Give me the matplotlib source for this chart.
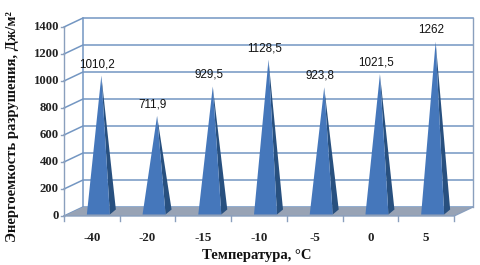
import numpy as np
import matplotlib
matplotlib.use("Agg")
import matplotlib.pyplot as plt
from matplotlib.patches import Polygon

temps = ['-40', '-20', '-15', '-10', '-5', '0', '5']
values = [1010.2, 711.9, 929.5, 1128.5, 923.8, 1021.5, 1262]
value_labels = ['1010,2', '711,9', '929,5', '1128,5', '923,8', '1021,5', '1262']
y_ticks = [0, 200, 400, 600, 800, 1000, 1200, 1400]

plt.rcParams['font.family'] = ['Liberation Serif', 'DejaVu Serif']

# pixel layout of the front plane, the axes span the whole figure
W, H = 481, 265
x0_px, x1_px, y0_px = 64, 454, 216
px_per_cat = (x1_px - x0_px) / len(temps)
px_per_unit = 27 / 200

fig = plt.figure(figsize=(W / 100, H / 100), dpi=100, facecolor='white')
ax = fig.add_axes([0, 0, 1, 1])
ax.set_xlim(-0.5 - x0_px / px_per_cat, -0.5 + (W - x0_px) / px_per_cat)
ax.set_ylim((y0_px - H) / px_per_unit, y0_px / px_per_unit)
ax.axis('off')

# offsets in data units
def dx(p):
    return p / px_per_cat

def dy(p):
    return p / px_per_unit

left, right = -0.5, len(temps) - 0.5
depth_x, depth_y = dx(19), dy(9)
grid_col = '#7396c2'
axis_col = '#8a9fbd'

# floor
ax.add_patch(Polygon([(left, 0), (left + depth_x, depth_y),
                      (right + depth_x, depth_y), (right, 0)],
                     fc='#98a3b5', ec='none', zorder=1))

# back wall grid + side wall grid
for t in y_ticks:
    ax.plot([left, left + depth_x, right + depth_x], [t, t + depth_y, t + depth_y],
            color=grid_col, lw=1.1, zorder=0.5)
ax.plot([left, left], [0, 1400], color=axis_col, lw=1.0, zorder=0.6)
ax.plot([left + depth_x] * 2, [depth_y, 1400 + depth_y], color=grid_col, lw=1.1, zorder=0.6)
ax.plot([right + depth_x] * 2, [depth_y, 1400 + depth_y], color=axis_col, lw=1.0, zorder=0.6)
ax.plot([left, right, right + depth_x], [0, 0, depth_y], color=axis_col, lw=1.0, zorder=1.2)

# ticks
for t in y_ticks:
    ax.plot([left - dx(3), left], [t, t], color=axis_col, lw=1.0)
    ax.text(left - dx(5), t, str(t), ha='right', va='center', fontsize=9.2,
            fontweight='bold', color='#222222')
for i in range(len(temps) + 1):
    ax.plot([left + i] * 2, [0, -dy(5)], color=axis_col, lw=1.0)

# pyramids
half_w = dx(11.5)
shift = dx(9.5)
skew_x, skew_y = dx(3), dy(2.5)
base_y = dy(4)
for i, v in enumerate(values):
    cx = i + shift
    apex = (cx, base_y + v)
    fl = (cx - half_w - skew_x, base_y - skew_y)
    fr = (cx + half_w - skew_x, base_y - skew_y)
    br = (cx + half_w + skew_x, base_y + skew_y)
    ax.add_patch(Polygon([fr, br, apex], fc='#28507f', ec='none', zorder=3))
    ax.add_patch(Polygon([fl, fr, apex], fc='#4577bb', ec='none', zorder=4))
    ax.annotate(value_labels[i], xy=apex, xytext=(-3, 4), textcoords='offset points',
                ha='center', va='bottom', fontsize=8.4, color='#111111',
                family=['Liberation Sans', 'DejaVu Sans'], zorder=5)
    ax.text(i, -dy(22), temps[i], ha='center', va='center', fontsize=9.4,
            fontweight='bold', color='#222222')

ax.text(-0.5 + (257 - x0_px) / px_per_cat, -dy(39.5), 'Температура, °С', ha='center', va='center',
        fontsize=10.5, fontweight='bold', color='#111111')
ax.text(-0.5 + (13 - x0_px) / px_per_cat, dy(y0_px - 127), 'Энергоемкость разрушения, Дж/м²',
        rotation=90, ha='center', va='center', fontsize=10.5, fontweight='bold', color='#111111')

fig.savefig('out.png', dpi=100, facecolor='white')
